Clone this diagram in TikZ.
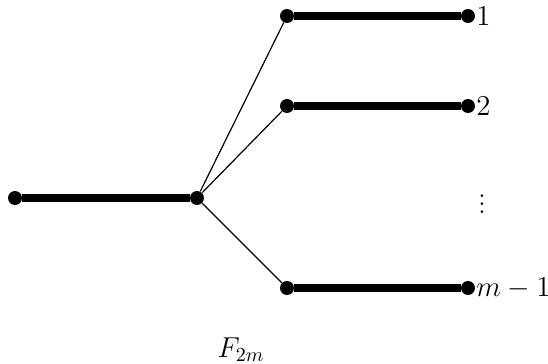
\documentclass[tikz,border=0pt]{standalone}
\begin{document}
\begin{tikzpicture}[x=0.5pt,y=-0.5pt,
  vtx/.style={circle,fill=black,inner sep=0pt,minimum size=7pt},
  heavy/.style={line width=4pt},
  light/.style={line width=0.6pt},
  lbl/.style={font=\fontsize{13.6}{16}\selectfont}]
\useasboundingbox (0,0) rectangle (548,364);
% root edge
\node[vtx] (a) at (15,198) {};
\node[vtx] (b) at (197,198) {};
% pendant edges
\node[vtx] (p1) at (287,16) {};
\node[vtx] (q1) at (468,16) {};
\node[vtx] (p2) at (287,106) {};
\node[vtx] (q2) at (468,106) {};
\node[vtx] (p3) at (287,288) {};
\node[vtx] (q3) at (468,288) {};
\draw[heavy] (a) -- (b);
\draw[heavy] (p1) -- (q1);
\draw[heavy] (p2) -- (q2);
\draw[heavy] (p3) -- (q3);
\draw[light] (b) -- (p1);
\draw[light] (b) -- (p2);
\draw[light] (b) -- (p3);
% labels
\node[lbl,anchor=west,inner sep=0pt] (l1) at (476,16) {$1$};
\node[lbl,anchor=west,inner sep=0pt] (l2) at (476,106) {$2$};
\node[lbl,anchor=west,inner sep=0pt] (l3) at (476,288) {$m-1$};
\node[lbl] (dots) at (482,198) {$\vdots$};
\node[lbl] (cap) at (241,350) {$F_{2m}$};
\end{tikzpicture}
\end{document}
